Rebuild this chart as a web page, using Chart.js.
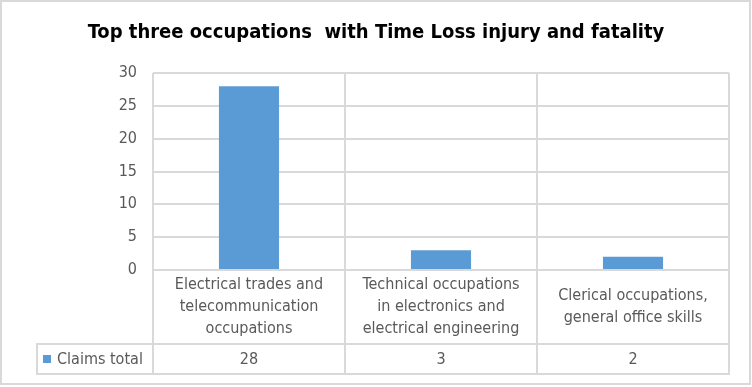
<!DOCTYPE html>
<html>
<head>
<meta charset="utf-8">
<script src="https://cdn.jsdelivr.net/npm/chart.js@4"></script>
<style>
  html, body { margin: 0; padding: 0; background: #fff; }
  #wrap { width: 752px; height: 387px; position: relative; }
</style>
</head>
<body>
<div id="wrap"><canvas id="myChart"></canvas></div>
<script>
// data
const chartTitle = 'Top three occupations  with Time Loss injury and fatality';
const seriesName = 'Claims total';
const categories = [
  ['Electrical trades and', 'telecommunication', 'occupations'],
  ['Technical occupations', 'in electronics and', 'electrical engineering'],
  ['Clerical occupations,', 'general office skills']
];
const claimsTotal = [28, 3, 2];
const yTicks = [0, 5, 10, 15, 20, 25, 30];

const gridColor = '#d9d9d9';
const textColor = '#595959';
const barColor = '#5b9bd5';
const fontFam = '"Liberation Sans Narrow", "DejaVu Sans Condensed", sans-serif';

// draws background, frame, category labels and the data table under the plot
const tablePlugin = {
  id: 'dataTable',
  beforeDraw(chart) {
    const ctx = chart.ctx;
    ctx.save();
    ctx.fillStyle = '#fff';
    ctx.fillRect(0, 0, chart.width, chart.height);
    ctx.strokeStyle = gridColor;
    ctx.lineWidth = 2;
    ctx.strokeRect(1, 1, chart.width - 3, chart.height - 4);
    ctx.restore();
  },
  afterDraw(chart) {
    const ctx = chart.ctx;
    const xs = chart.scales.x;
    const area = chart.chartArea;
    const top = area.bottom;
    const rowTop = top + 74;
    const rowBot = rowTop + 30;
    const legLeft = 37;
    const step = (area.right - area.left) / categories.length;

    ctx.save();
    ctx.strokeStyle = gridColor;
    ctx.lineWidth = 2;
    ctx.beginPath();
    // horizontal rules
    ctx.moveTo(legLeft - 1, rowTop); ctx.lineTo(area.right + 1, rowTop);
    ctx.moveTo(legLeft - 1, rowBot); ctx.lineTo(area.right + 1, rowBot);
    // vertical rules
    ctx.moveTo(legLeft, rowTop); ctx.lineTo(legLeft, rowBot);
    for (let i = 0; i <= categories.length; i++) {
      const x = Math.round(area.left + step * i);
      ctx.moveTo(x, top); ctx.lineTo(x, rowBot);
    }
    ctx.stroke();

    ctx.fillStyle = textColor;
    ctx.font = '16px ' + fontFam;
    ctx.textAlign = 'center';
    ctx.textBaseline = 'middle';
    const lh = 22;
    categories.forEach((lines, i) => {
      const cx = xs.getPixelForValue(i);
      const mid = top + 37;
      const start = mid - (lines.length - 1) * lh / 2;
      lines.forEach((t, j) => ctx.fillText(t, cx, start + j * lh));
      ctx.fillText(String(claimsTotal[i]), cx, (rowTop + rowBot) / 2 + 1);
    });

    // legend key + series name
    ctx.fillStyle = barColor;
    ctx.fillRect(43, (rowTop + rowBot) / 2 - 4, 8, 8);
    ctx.fillStyle = textColor;
    ctx.textAlign = 'left';
    ctx.fillText(seriesName, 57, (rowTop + rowBot) / 2 + 1);
    ctx.restore();
  }
};

new Chart(document.getElementById('myChart'), {
  type: 'bar',
  data: {
    labels: categories.map(c => c.join(' ')),
    datasets: [{
      label: seriesName,
      data: claimsTotal,
      backgroundColor: barColor,
      categoryPercentage: 1,
      barPercentage: 0.313
    }]
  },
  options: {
    responsive: true,
    maintainAspectRatio: false,
    animation: false,
    layout: { padding: { left: 23, right: 23, top: 0, bottom: 43 } },
    plugins: {
      legend: { display: false },
      tooltip: { enabled: false },
      title: {
        display: true,
        text: chartTitle,
        color: '#000',
        font: { family: fontFam, size: 20, weight: 'bold' },
        padding: { top: 21, bottom: 28 }
      }
    },
    scales: {
      x: {
        grid: { display: true, offset: true, color: gridColor, lineWidth: 2, drawTicks: false },
        border: { display: true, color: gridColor, width: 2 },
        ticks: { display: false },
        afterFit(scale) { scale.height = 74; }
      },
      y: {
        min: 0,
        max: 30,
        afterBuildTicks(scale) { scale.ticks = yTicks.map(v => ({ value: v })); },
        grid: { color: gridColor, lineWidth: 2, drawTicks: false },
        border: { display: false },
        ticks: { color: textColor, padding: 16, font: { family: fontFam, size: 16 } },
        afterFit(scale) { scale.width = 130; }
      }
    }
  },
  plugins: [tablePlugin]
});
</script>
</body>
</html>
